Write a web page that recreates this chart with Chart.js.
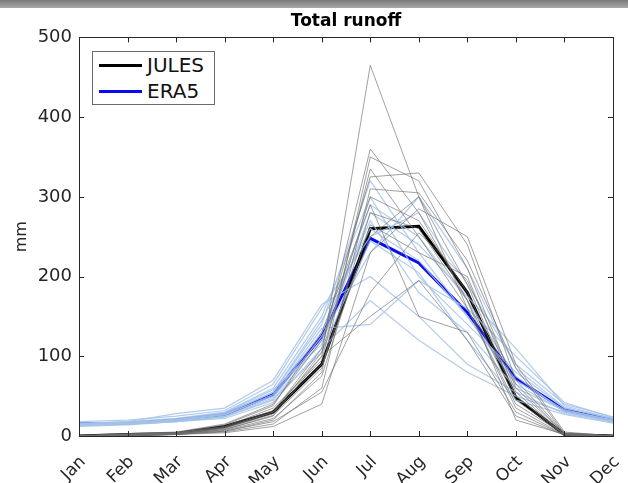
<!DOCTYPE html>
<html>
<head>
<meta charset="utf-8">
<script src="https://cdn.jsdelivr.net/npm/chart.js@4/dist/chart.umd.min.js"></script>
<style>
  html, body { margin: 0; padding: 0; background: #fff; }
  #wrap { position: relative; width: 628px; height: 483px; }
  #bar { position: absolute; left: 0; top: 0; width: 628px; height: 8px; background: linear-gradient(#7a7a7a, #a9a9a9); }
  #legend { position: absolute; left: 92px; top: 51px; width: 123px; height: 54px; border: 1px solid #6a6a6a;
            background: #fff; box-sizing: border-box; font-family: 'DejaVu Sans'; font-size: 20px; color: #111; }
  .row { position: absolute; left: 6px; height: 26px; display: flex; align-items: center; }
  .sw { width: 43px; height: 3px; margin-right: 5px; }
</style>
</head>
<body>
<div id="wrap">
  <canvas id="c" width="628" height="483"></canvas>
  <div id="bar"></div>
  <div id="legend">
    <div class="row" style="top:0px"><div class="sw" style="background:#000"></div>JULES</div>
    <div class="row" style="top:26px"><div class="sw" style="background:#0a0aee"></div>ERA5</div>
  </div>
</div>
<script>
// Total runoff — monthly climatology, JULES vs ERA5 with individual years behind

const months = ['Jan', 'Feb', 'Mar', 'Apr', 'May', 'Jun', 'Jul', 'Aug', 'Sep', 'Oct', 'Nov', 'Dec'];
const yTicks = [0, 100, 200, 300, 400, 500];

const julesMean = [0, 2, 3, 12, 30, 90, 260, 263, 180, 48, 2, 0];
const era5Mean = [15, 16, 20, 27, 52, 125, 248, 217, 155, 72, 33, 20];

// individual JULES years (grey)
const julesYears = [
  [0, 1, 2, 8, 25, 100, 465, 300, 190, 50, 2, 0],
  [0, 2, 3, 10, 30, 110, 360, 280, 170, 45, 2, 0],
  [0, 1, 2, 6, 20, 80, 350, 320, 210, 60, 3, 0],
  [0, 2, 4, 12, 35, 95, 335, 250, 160, 40, 2, 0],
  [1, 3, 5, 15, 40, 120, 325, 330, 240, 70, 4, 0],
  [0, 1, 2, 5, 15, 60, 310, 305, 220, 85, 3, 0],
  [0, 2, 3, 9, 28, 105, 300, 270, 180, 50, 2, 0],
  [0, 1, 2, 4, 12, 40, 230, 285, 250, 90, 5, 0],
  [0, 2, 4, 14, 38, 130, 290, 150, 130, 30, 1, 0],
  [0, 1, 3, 7, 22, 75, 265, 230, 200, 55, 2, 0],
  [0, 2, 3, 10, 30, 90, 250, 300, 160, 35, 1, 0],
  [0, 1, 2, 6, 18, 55, 180, 255, 195, 65, 3, 0],
  [0, 2, 4, 11, 32, 100, 150, 195, 120, 25, 1, 0],
  [0, 1, 3, 8, 26, 85, 280, 260, 170, 20, 2, 0],
];

// individual ERA5 years (light blue)
const era5Years = [
  [14, 16, 20, 28, 55, 140, 320, 230, 150, 70, 33, 20],
  [16, 18, 22, 30, 60, 150, 300, 200, 140, 80, 35, 22],
  [12, 14, 18, 24, 45, 120, 290, 250, 170, 75, 30, 18],
  [15, 17, 21, 27, 50, 130, 270, 180, 130, 60, 32, 20],
  [18, 20, 25, 32, 65, 160, 250, 280, 190, 90, 40, 24],
  [13, 15, 19, 25, 48, 125, 230, 300, 210, 85, 36, 21],
  [15, 18, 28, 35, 70, 165, 200, 150, 90, 55, 28, 17],
  [14, 15, 18, 22, 42, 110, 170, 120, 80, 50, 30, 18],
  [16, 17, 20, 26, 52, 135, 140, 195, 160, 100, 42, 23],
  [14, 16, 19, 27, 55, 145, 260, 220, 150, 65, 31, 19],
  [15, 16, 21, 29, 58, 115, 280, 240, 175, 110, 38, 22],
  [13, 15, 18, 24, 46, 105, 245, 205, 120, 45, 27, 16],
];

const AXIS = '#262626';
const FONT = 'DejaVu Sans';

const datasets = [];
julesYears.forEach((d, i) => datasets.push({ label: 'JULES ' + i, data: d, borderColor: 'rgba(110,110,110,0.65)', borderWidth: 1 }));
era5Years.forEach((d, i) => datasets.push({ label: 'ERA5 ' + i, data: d, borderColor: 'rgba(165,195,232,0.85)', borderWidth: 1.2 }));
datasets.push({ label: 'JULES', data: julesMean, borderColor: '#000', borderWidth: 3 });
datasets.push({ label: 'ERA5', data: era5Mean, borderColor: '#0a0aee', borderWidth: 3 });

// MATLAB-style box with inward ticks on all four sides
const frame = {
  id: 'frame',
  afterDatasetsDraw(chart) {
    const { ctx, chartArea: a, scales: { x, y } } = chart;
    ctx.save();
    ctx.strokeStyle = AXIS;
    ctx.lineWidth = 1;
    ctx.strokeRect(Math.round(a.left) + 0.5, Math.round(a.top) + 0.5, Math.round(a.right - a.left), Math.round(a.bottom - a.top));
    ctx.beginPath();
    x.ticks.forEach((t, i) => {
      const px = Math.round(x.getPixelForTick(i)) + 0.5;
      ctx.moveTo(px, a.bottom); ctx.lineTo(px, a.bottom - 5);
      ctx.moveTo(px, a.top); ctx.lineTo(px, a.top + 5);
    });
    y.ticks.forEach((t) => {
      const py = Math.round(y.getPixelForValue(t.value)) + 0.5;
      ctx.moveTo(a.left, py); ctx.lineTo(a.left + 5, py);
      ctx.moveTo(a.right, py); ctx.lineTo(a.right - 5, py);
    });
    ctx.stroke();
    ctx.restore();
  },
};

new Chart(document.getElementById('c'), {
  type: 'line',
  data: { labels: months, datasets },
  plugins: [frame],
  options: {
    responsive: false,
    animation: false,
    elements: { point: { radius: 0 }, line: { tension: 0 } },
    layout: { padding: { right: 15 } },
    plugins: {
      legend: { display: false },
      tooltip: { enabled: false },
      title: {
        display: true,
        fullSize: false,
        text: 'Total runoff',
        color: '#000',
        font: { family: FONT, size: 17, weight: 'bold' },
        padding: { top: 11, bottom: 6 },
      },
    },
    scales: {
      x: {
        offset: false,
        grid: { display: false, drawTicks: false },
        border: { display: false },
        ticks: { color: AXIS, font: { family: FONT, size: 17 }, maxRotation: 45, minRotation: 45, autoSkip: false,
                 padding: 16, labelOffset: 4 },
        afterFit: (s) => { s.height = 47; s.paddingLeft = 0; s.paddingRight = 0; },
      },
      y: {
        min: 0,
        max: 500,
        grid: { display: false, drawTicks: false },
        border: { display: false },
        ticks: { color: AXIS, font: { family: FONT, size: 18 }, stepSize: 100, padding: 7,
                 callback: (v) => (yTicks.includes(v) ? String(v) : null) },
        title: { display: true, text: 'mm', color: AXIS, font: { family: FONT, size: 16 }, padding: { top: 12, bottom: 0 } },
        afterFit: (s) => { s.width = 79; s.paddingTop = 0; s.paddingBottom = 0; },
      },
    },
  },
});
</script>
</body>
</html>
